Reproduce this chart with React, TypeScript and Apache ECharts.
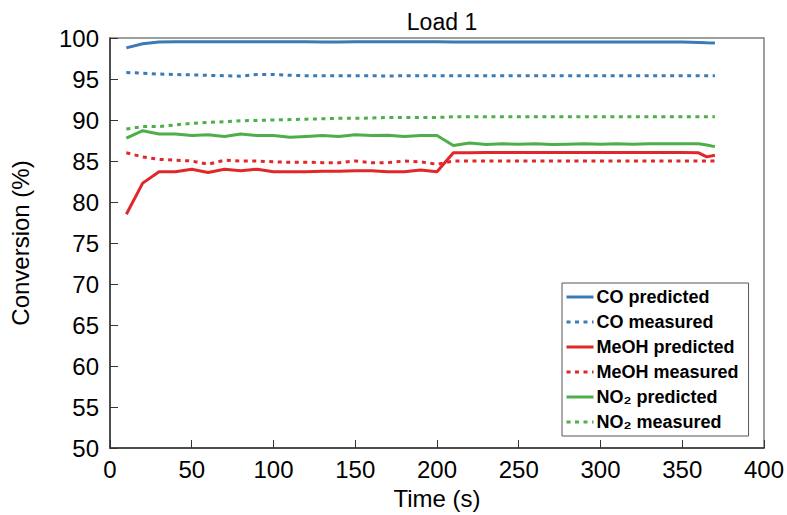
import React, { useEffect, useRef } from "react";
import * as echarts from "echarts";

const times = [10, 20, 30, 40, 50, 60, 70, 80, 90, 100, 110, 120, 130, 140, 150, 160, 170, 180, 190, 200, 210, 220, 230, 240, 250, 260, 270, 280, 290, 300, 310, 320, 330, 340, 350, 360, 365, 370];

const coPredicted = [98.8, 99.3, 99.5, 99.55, 99.55, 99.55, 99.55, 99.55, 99.55, 99.55, 99.55, 99.55, 99.5, 99.5, 99.55, 99.55, 99.55, 99.55, 99.55, 99.55, 99.5, 99.5, 99.5, 99.5, 99.5, 99.5, 99.5, 99.5, 99.5, 99.5, 99.5, 99.5, 99.5, 99.5, 99.5, 99.45, 99.42, 99.4];
const coMeasured = [95.8, 95.7, 95.6, 95.55, 95.5, 95.45, 95.4, 95.35, 95.55, 95.55, 95.45, 95.4, 95.4, 95.4, 95.4, 95.4, 95.35, 95.4, 95.4, 95.4, 95.4, 95.4, 95.4, 95.4, 95.4, 95.4, 95.4, 95.4, 95.4, 95.4, 95.4, 95.4, 95.4, 95.4, 95.4, 95.4, 95.4, 95.4];
const meohPredicted = [78.5, 82.3, 83.7, 83.7, 84.0, 83.6, 84.0, 83.8, 84.0, 83.7, 83.7, 83.7, 83.75, 83.75, 83.8, 83.8, 83.7, 83.7, 83.9, 83.7, 86.0, 86.0, 86.05, 86.05, 86.05, 86.05, 86.05, 86.05, 86.05, 86.05, 86.05, 86.05, 86.05, 86.05, 86.05, 86.0, 85.5, 85.7];
const meohMeasured = [86.0, 85.5, 85.2, 85.1, 85.0, 84.6, 85.1, 85.0, 85.0, 84.9, 84.85, 84.85, 84.8, 84.8, 85.0, 84.8, 84.8, 85.0, 84.9, 84.6, 85.0, 85.0, 85.0, 85.0, 85.0, 85.0, 85.0, 85.0, 85.0, 85.0, 85.0, 85.0, 85.0, 85.0, 85.0, 85.0, 85.0, 85.0];
const no2Predicted = [87.8, 88.7, 88.3, 88.3, 88.1, 88.2, 88.0, 88.3, 88.1, 88.1, 87.9, 88.0, 88.1, 88.0, 88.2, 88.1, 88.15, 88.0, 88.1, 88.1, 86.9, 87.2, 87.0, 87.1, 87.05, 87.1, 87.0, 87.05, 87.1, 87.05, 87.1, 87.05, 87.1, 87.1, 87.1, 87.1, 86.95, 86.75];
const no2Measured = [88.9, 89.2, 89.2, 89.4, 89.6, 89.7, 89.8, 89.9, 89.95, 90.0, 90.05, 90.1, 90.15, 90.2, 90.2, 90.25, 90.3, 90.3, 90.3, 90.3, 90.4, 90.4, 90.4, 90.4, 90.4, 90.4, 90.4, 90.4, 90.4, 90.4, 90.4, 90.4, 90.4, 90.4, 90.4, 90.4, 90.4, 90.4];

const seriesNames = ["CO predicted", "CO measured", "MeOH predicted", "MeOH measured", "NO₂ predicted", "NO₂ measured"];
const seriesColors = ["#3a7bb5", "#3a7bb5", "#e0272a", "#e0272a", "#4dae4a", "#4dae4a"];
const seriesDotted = [false, true, false, true, false, true];
const seriesValues = [coPredicted, coMeasured, meohPredicted, meohMeasured, no2Predicted, no2Measured];

const FONT = "'Liberation Sans', Arial, sans-serif";

export default function App() {
  const ref = useRef<HTMLDivElement>(null);
  useEffect(() => {
    if (!ref.current) return;
    const chart = echarts.init(ref.current, undefined, { renderer: "svg" });
    chart.setOption({
      animation: false,
      backgroundColor: "#ffffff",
      textStyle: { fontFamily: FONT },
      title: {
        text: "Load 1",
        left: 437,
        top: 5,
        textAlign: "center",
        textStyle: { fontFamily: FONT, fontSize: 23, fontWeight: "normal", color: "#000" },
      },
      grid: {
        left: 110,
        right: 17,
        top: 38,
        bottom: 63,
        show: true,
        borderColor: "#7f7f7f",
        borderWidth: 1.5,
        backgroundColor: "transparent",
      },
      legend: {
        orient: "vertical",
        left: 562,
        top: 283,
        padding: [5, 10, 5, 3],
        itemGap: 7,
        itemWidth: 27,
        itemHeight: 18,
        borderColor: "#555",
        borderWidth: 1,
        backgroundColor: "#fff",
        itemStyle: { opacity: 0 },
        lineStyle: { width: 3 },
        textStyle: { fontFamily: FONT, fontSize: 18, fontWeight: "bold", color: "#000", padding: [0, 0, 0, -2] },
        data: seriesNames,
      },
      xAxis: {
        type: "value",
        min: 0,
        max: 400,
        interval: 50,
        name: "Time (s)",
        nameLocation: "middle",
        nameGap: 38,
        nameTextStyle: { fontFamily: FONT, fontSize: 24, color: "#000" },
        axisLine: { show: true, lineStyle: { color: "#333", width: 1.5 } },
        axisTick: { show: true, inside: true, length: 8, lineStyle: { color: "#333", width: 1 } },
        axisLabel: { fontFamily: FONT, fontSize: 24, color: "#000", margin: 9 },
        splitLine: { show: false },
      },
      yAxis: {
        type: "value",
        min: 50,
        max: 100,
        interval: 5,
        name: "Conversion (%)",
        nameLocation: "middle",
        nameGap: 78,
        nameTextStyle: { fontFamily: FONT, fontSize: 24, color: "#000" },
        axisLine: { show: true, lineStyle: { color: "#333", width: 1.5 } },
        axisTick: { show: true, inside: true, length: 8, lineStyle: { color: "#333", width: 1 } },
        axisLabel: { fontFamily: FONT, fontSize: 24, color: "#000", margin: 11 },
        splitLine: { show: false },
      },
      series: seriesNames.map((name, i) => ({
        name,
        type: "line",
        data: times.map((t, j) => [t, seriesValues[i][j]]),
        symbol: "none",
        showSymbol: false,
        smooth: false,
        color: seriesColors[i],
        lineStyle: {
          color: seriesColors[i],
          width: 3,
          type: seriesDotted[i] ? [4, 4.5] : "solid",
          cap: "butt",
        },
        z: 2,
      })),
    });
    return () => chart.dispose();
  }, []);
  return <div ref={ref} style={{ width: 787, height: 515, position: "absolute", left: 0, top: 0 }} />;
}
